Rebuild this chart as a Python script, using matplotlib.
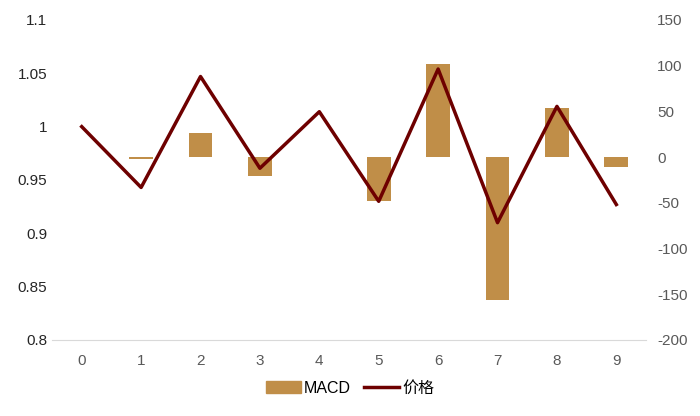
import matplotlib.pyplot as plt
from matplotlib.patches import Patch
from matplotlib.lines import Line2D

plt.rcParams['font.family'] = ['Liberation Sans', 'Noto Sans CJK SC', 'DejaVu Sans']
plt.rcParams['axes.unicode_minus'] = False

x = list(range(10))
macd = [0, -2, 26, -21, 0, -48, 102, -156, 54, -11]
price = [1.0, 0.943, 1.047, 0.961, 1.014, 0.930, 1.054, 0.910, 1.019, 0.927]

bar_color = "#C08E48"
line_color = "#6E0000"
tick_color = "#595959"

fig = plt.figure(figsize=(7, 4.16), dpi=100)
ax = fig.add_axes([0.0743, 0.1827, 0.8486, 0.7693])
ax2 = ax.twinx()

# bars on the right axis, line on the left
ax2.bar(x, macd, width=0.4, color=bar_color, zorder=1)
ax.plot(x, price, color=line_color, linewidth=2.5, zorder=3)
ax.set_zorder(ax2.get_zorder() + 1)
ax.patch.set_visible(False)

ax.set_xlim(-0.5, 9.5)
ax.set_ylim(0.8, 1.1)
ax2.set_ylim(-200, 150)
ax.set_yticks([0.8, 0.85, 0.9, 0.95, 1.0, 1.05, 1.1])
ax.set_yticklabels(["0.8", "0.85", "0.9", "0.95", "1", "1.05", "1.1"])
ax2.set_yticks([-200, -150, -100, -50, 0, 50, 100, 150])
ax.set_xticks(x)

for a in (ax, ax2):
    for s in a.spines.values():
        s.set_visible(False)
    a.tick_params(length=0, labelsize=11, colors=tick_color)
ax.tick_params(axis="y", colors="#262626")
ax.tick_params(axis="x", pad=10)
ax2.tick_params(axis="y", pad=8)
ax.spines["bottom"].set_visible(True)
ax.spines["bottom"].set_color("#D9D9D9")

handles = [Patch(color=bar_color), Line2D([0], [0], color=line_color, linewidth=2.5)]
fig.legend(handles, ["MACD", "价格"], loc="center", bbox_to_anchor=(0.5, 0.067),
           ncol=2, frameon=False, fontsize=11.5, handlelength=2.2,
           handletextpad=0.2, columnspacing=0.8)

fig.savefig("out.png", dpi=100)
